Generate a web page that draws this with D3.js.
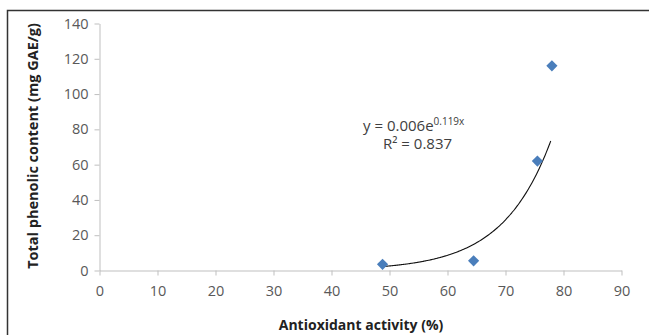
<!DOCTYPE html>
<html>
<head>
<meta charset="utf-8">
<script src="https://cdn.jsdelivr.net/npm/d3@7"></script>
<style>
  body { margin: 0; background: #fff; }
  svg text { font-family: "Open Sans", "Liberation Sans", sans-serif; }
</style>
</head>
<body>
<div id="chart"></div>
<script>
// Data
const activity = [48.8, 64.5, 75.5, 78.0];      // x, %
const phenolic = [3.5, 5.5, 62, 116];           // y, mg GAE/g
const xTicks = [0, 10, 20, 30, 40, 50, 60, 70, 80, 90];
const yTicks = [0, 20, 40, 60, 80, 100, 120, 140];

const width = 649, height = 335;
const svg = d3.select("#chart").append("svg")
  .attr("width", width)
  .attr("height", height);

// outer frame
svg.append("rect")
  .attr("x", 7.5).attr("y", 10.5)
  .attr("width", 700).attr("height", 400)
  .attr("fill", "none")
  .attr("stroke", "#333")
  .attr("stroke-width", 1.5);

const x = d3.scaleLinear().domain([0, 90]).range([99.5, 621.5]);
const y = d3.scaleLinear().domain([0, 140]).range([270.5, 23.5]);

// x axis
const xAxis = svg.append("g")
  .attr("transform", `translate(0,${y(0)})`)
  .call(d3.axisBottom(x).tickValues(xTicks).tickSize(5).tickPadding(10).tickSizeOuter(0));
// y axis
const yAxis = svg.append("g")
  .attr("transform", `translate(${x(0)},0)`)
  .call(d3.axisLeft(y).tickValues(yTicks).tickSize(5).tickPadding(6).tickSizeOuter(0));

[xAxis, yAxis].forEach(a => {
  a.select(".domain").attr("stroke", "#bfbfbf");
  a.selectAll(".tick line").attr("stroke", "#bfbfbf");
  a.selectAll(".tick text")
    .attr("fill", "#595959")
    .attr("font-size", 14.5)
    .style("font-family", "'Open Sans', sans-serif");
});

// exponential trendline, least squares on ln(y)
const pts = activity.map((v, i) => [v, phenolic[i]]);
const mx = d3.mean(pts, d => d[0]);
const my = d3.mean(pts, d => Math.log(d[1]));
const b = d3.sum(pts, d => (d[0] - mx) * (Math.log(d[1]) - my)) /
          d3.sum(pts, d => (d[0] - mx) ** 2);
const a = Math.exp(my - b * mx);
const xs = d3.range(d3.min(activity), d3.max(activity) + 0.01, 0.25);
const line = d3.line().x(d => x(d)).y(d => y(a * Math.exp(b * d))).curve(d3.curveBasis);
svg.append("path")
  .attr("d", line(xs))
  .attr("fill", "none")
  .attr("stroke", "#111")
  .attr("stroke-width", 1.1);

// markers
svg.selectAll(".pt")
  .data(pts)
  .enter()
  .append("path")
  .attr("class", "pt")
  .attr("transform", d => `translate(${x(d[0])},${y(d[1])})`)
  .attr("d", d3.symbol(d3.symbolDiamond2, 80)())
  .attr("fill", "#4a7ebb");

// equation
const eq = svg.append("text")
  .attr("x", 363).attr("y", 131)
  .attr("font-size", 15)
  .attr("fill", "#404040");
eq.append("tspan").text("y = 0.006e");
eq.append("tspan").attr("dy", -6).attr("font-size", 10).text("0.119x");
svg.append("text")
  .attr("x", 383).attr("y", 149)
  .attr("font-size", 15)
  .attr("fill", "#404040")
  .text("R² = 0.837");

// axis titles
svg.append("text")
  .attr("x", 361).attr("y", 330)
  .attr("text-anchor", "middle")
  .attr("font-size", 14)
  .attr("font-weight", "bold")
  .attr("fill", "#222")
  .text("Antioxidant activity (%)");
svg.append("text")
  .attr("transform", "translate(38,146) rotate(-90)")
  .attr("text-anchor", "middle")
  .attr("font-size", 14.5)
  .attr("font-weight", "bold")
  .attr("fill", "#222")
  .text("Total phenolic content (mg GAE/g)");
</script>
</body>
</html>
